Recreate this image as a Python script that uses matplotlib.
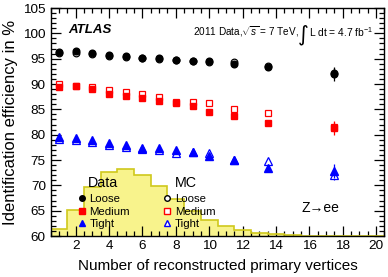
import matplotlib
matplotlib.use("Agg")
import matplotlib.pyplot as plt
from matplotlib.ticker import MultipleLocator
from matplotlib.lines import Line2D
import numpy as np

plt.rcParams['font.family'] = ['Liberation Sans', 'DejaVu Sans']
plt.rcParams['mathtext.fontset'] = 'custom'
plt.rcParams['mathtext.rm'] = 'Liberation Sans'
plt.rcParams['mathtext.it'] = 'Liberation Sans:italic'

# ---- data ----
nvtx = [1, 2, 3, 4, 5, 6, 7, 8, 9, 10, 11.5, 13.5, 17.5]

loose_data = [96.4, 96.5, 96.1, 95.7, 95.5, 95.2, 95.1, 94.8, 94.6, 94.5, 93.9, 93.3, 91.9]
loose_mc   = [96.2, 96.2, 96.0, 95.6, 95.4, 95.1, 95.0, 94.7, 94.6, 94.4, 94.3, 93.6, 92.1]
medium_data = [89.5, 89.6, 89.0, 88.0, 87.7, 87.3, 86.7, 86.2, 85.7, 84.4, 83.7, 82.4, 81.3]
medium_mc   = [90.1, 89.7, 89.4, 88.8, 88.4, 88.0, 87.4, 86.5, 86.5, 86.2, 85.1, 84.2, 81.6]
tight_data = [79.6, 79.4, 79.0, 78.3, 78.0, 77.4, 77.3, 76.9, 76.6, 75.7, 75.0, 73.5, 72.8]
tight_mc   = [79.2, 78.9, 78.5, 78.0, 77.6, 77.2, 76.9, 76.4, 76.5, 76.3, 75.0, 74.8, 72.0]

err_data = [0.25, 0.2, 0.2, 0.2, 0.2, 0.2, 0.2, 0.25, 0.3, 0.35, 0.35, 0.5, 1.4]
err_mc   = [0.2, 0.15, 0.15, 0.15, 0.15, 0.15, 0.15, 0.2, 0.2, 0.25, 0.3, 0.4, 1.0]

# pile-up distribution (arbitrary scale, drawn above y = 60)
hist_edges = np.arange(0.5, 21.0, 1.0)
hist_vals = [1.3, 5.2, 9.7, 12.7, 13.2, 12.0, 9.8, 7.3, 4.9, 3.2, 1.9, 1.1,
             0.6, 0.3, 0.15, 0.08, 0.04, 0.02, 0.01, 0.01]

baseline = 60.0

fig = plt.figure(figsize=(3.88, 2.77), dpi=100)
ax = fig.add_axes([0.1307, 0.148, 0.860, 0.823])

ax.stairs(np.array(hist_vals) + baseline, hist_edges, baseline=baseline, fill=True,
          color='#f8f38c', zorder=1)
ax.stairs(np.array(hist_vals) + baseline, hist_edges, baseline=baseline, fill=False,
          color='#cfc81c', lw=1.2, zorder=2)

ms = 4.8
ax.errorbar(nvtx, loose_mc, yerr=err_mc, fmt='o', mfc='white', mec='black', ecolor='black',
            ms=ms, mew=0.9, elinewidth=0.9, capsize=0, zorder=3)
ax.errorbar(nvtx, loose_data, yerr=err_data, fmt='o', mfc='black', mec='black', ecolor='black',
            ms=ms, elinewidth=0.9, capsize=0, zorder=4)
ax.errorbar(nvtx, medium_mc, yerr=err_mc, fmt='s', mfc='white', mec='red', ecolor='red',
            ms=ms, mew=0.9, elinewidth=0.9, capsize=0, zorder=3)
ax.errorbar(nvtx, medium_data, yerr=err_data, fmt='s', mfc='red', mec='red', ecolor='red',
            ms=ms, elinewidth=0.9, capsize=0, zorder=4)
ax.errorbar(nvtx, tight_mc, yerr=err_mc, fmt='^', mfc='white', mec='blue', ecolor='blue',
            ms=ms + 0.6, mew=0.9, elinewidth=0.9, capsize=0, zorder=3)
ax.errorbar(nvtx, tight_data, yerr=err_data, fmt='^', mfc='blue', mec='blue', ecolor='blue',
            ms=ms + 0.6, elinewidth=0.9, capsize=0, zorder=4)

ax.set_xlim(0.5, 20.5)
ax.set_ylim(60, 105)
ax.xaxis.set_major_locator(MultipleLocator(2))
ax.xaxis.set_minor_locator(MultipleLocator(0.5))
ax.yaxis.set_major_locator(MultipleLocator(5))
ax.yaxis.set_minor_locator(MultipleLocator(1))
ax.tick_params(which='both', direction='in', top=True, right=True, labelsize=9.7, width=0.9)
ax.tick_params(which='major', length=7)
ax.tick_params(which='minor', length=3.5)
ax.tick_params(axis='x', pad=3)
for s in ax.spines.values():
    s.set_linewidth(1.0)

ax.set_xlabel('Number of reconstructed primary vertices', fontsize=11, labelpad=5)
ax.set_ylabel('Identification efficiency in %', fontsize=12, labelpad=4)

ax.text(0.052, 0.905, 'ATLAS', transform=ax.transAxes, fontsize=9.5, fontweight='bold',
        style='italic', va='center', ha='left')
ax.text(0.427, 0.896, r'2011 Data,$\sqrt{s}$ = 7 TeV,',
        transform=ax.transAxes, fontsize=7.2, va='center', ha='left')
ax.text(0.758, 0.885, '\u222b', transform=ax.transAxes, fontsize=15, va='center',
        ha='center', family=['DejaVu Sans'])
ax.text(0.773, 0.896, r'L dt = 4.7 fb$^{-1}$',
        transform=ax.transAxes, fontsize=7.4, va='center', ha='left')
ax.text(0.753, 0.123, 'Z\u2192ee', transform=ax.transAxes, fontsize=10, va='center', ha='left')

h_data = [Line2D([], [], ls='none', marker='o', mfc='black', mec='black', ms=4),
          Line2D([], [], ls='none', marker='s', mfc='red', mec='red', ms=4),
          Line2D([], [], ls='none', marker='^', mfc='blue', mec='blue', ms=4.5)]
h_mc = [Line2D([], [], ls='none', marker='o', mfc='white', mec='black', ms=4),
        Line2D([], [], ls='none', marker='s', mfc='white', mec='red', ms=4),
        Line2D([], [], ls='none', marker='^', mfc='white', mec='blue', ms=4.5)]
labels = ['Loose', 'Medium', 'Tight']
common = dict(frameon=False, fontsize=8.2, handlelength=0.6,
              handletextpad=0.35, labelspacing=0.22, borderpad=0.0, borderaxespad=0.0)
leg1 = ax.legend(h_data, labels, loc='upper left',
                 bbox_to_anchor=(0.083, 0.183), **common)
ax.add_artist(leg1)
leg2 = ax.legend(h_mc, labels, loc='upper left',
                 bbox_to_anchor=(0.339, 0.183), **common)
ax.text(0.112, 0.232, 'Data', transform=ax.transAxes, fontsize=10.3, va='center', ha='left')
ax.text(0.372, 0.232, 'MC', transform=ax.transAxes, fontsize=10.3, va='center', ha='left')

fig.savefig('out.png', dpi=100)
